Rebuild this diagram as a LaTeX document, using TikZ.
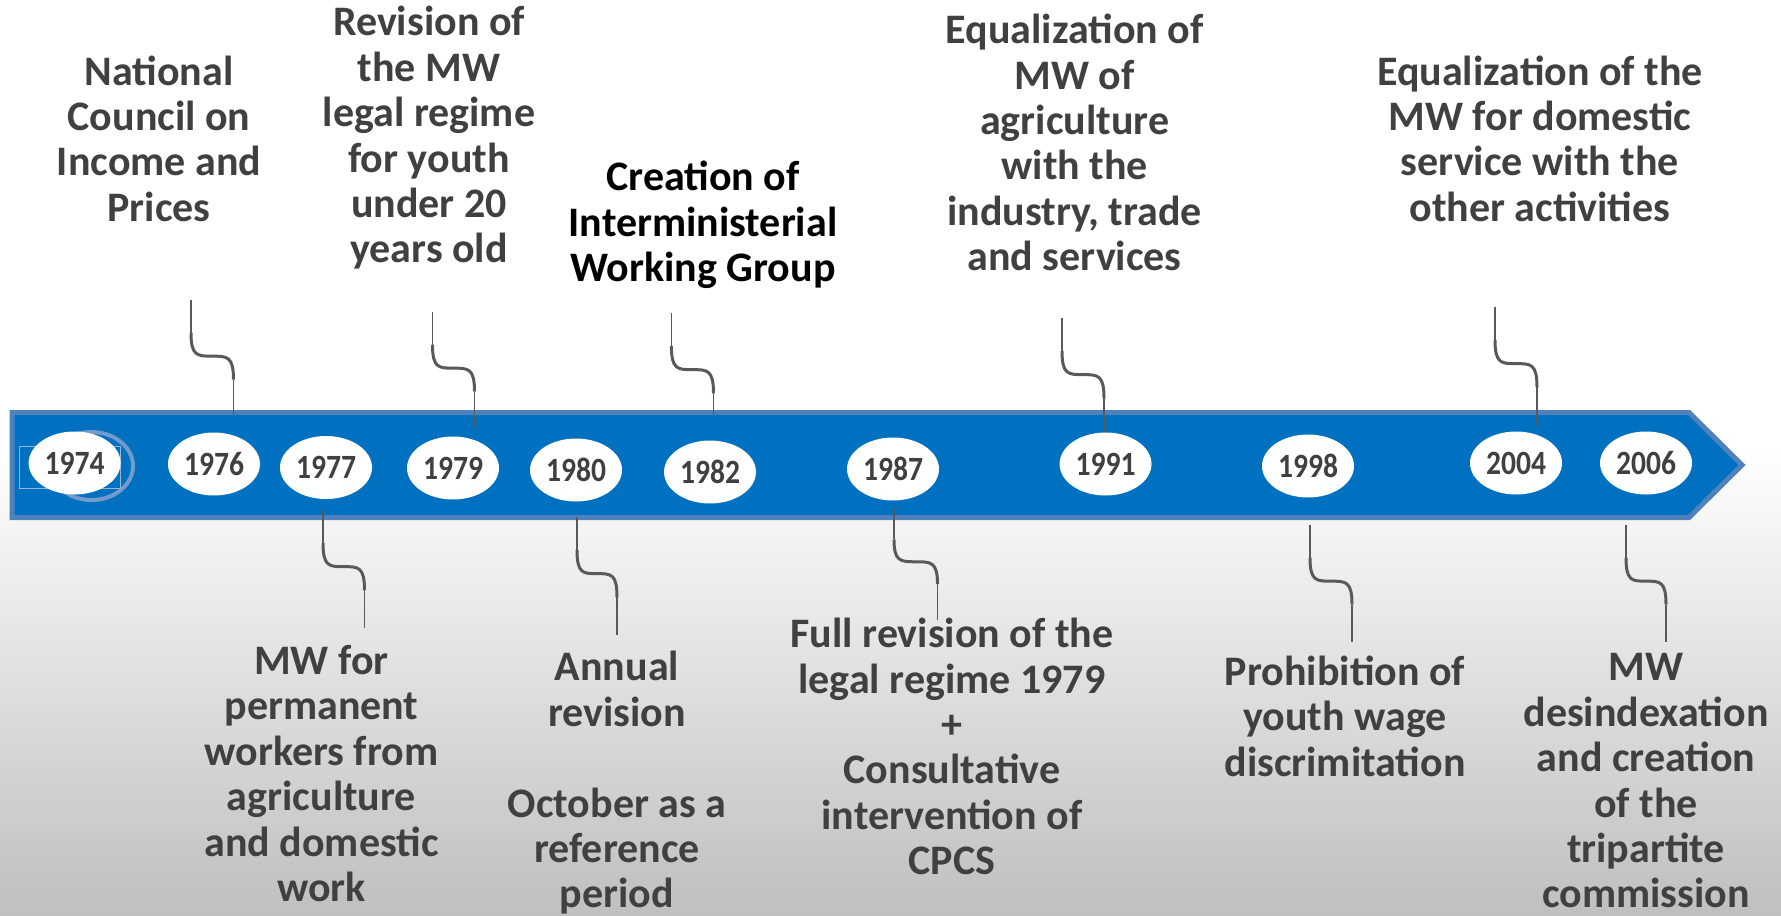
\documentclass[tikz,border=0pt]{standalone}
\usepackage{fontspec}
\setmainfont{Carlito}
\newfontfamily\yearfont{Carlito}[FakeStretch=0.87]
\usetikzlibrary{calc,shapes.geometric}
\definecolor{barblue}{HTML}{0070C0}
\definecolor{barline}{HTML}{4F81BD}
\definecolor{txtgray}{HTML}{404040}
\definecolor{linegray}{HTML}{595959}
\definecolor{bggray}{HTML}{BFBFBF}
\tikzset{
  year/.style={ellipse, fill=white, minimum width=46pt, minimum height=31.5pt, inner sep=0,
    font=\yearfont\fontsize{17}{17}\selectfont\bfseries, text=txtgray},
  event/.style={align=center, inner sep=0, text=txtgray,
    font=\fontsize{21}{22.7}\selectfont\bfseries},
  stub/.style={linegray, line width=0.6pt},
  wave/.style={linegray, line width=1.5pt},
}
\newcommand{\tllink}[2]{%
  \draw[stub] let \p1=(#1), \p2=(#2), \n1={\y1+0.28*(\y2-(\y1))}, \n2={\y1+0.68*(\y2-(\y1))}
    in (#1) -- (\x1,\n1) (\x2,\n2) -- (#2);
  \draw[wave] let \p1=(#1), \p2=(#2), \n1={\y1+0.28*(\y2-(\y1))}, \n2={\y1+0.68*(\y2-(\y1))},
    \n3={\y1+0.48*(\y2-(\y1))}, \n4={0.5*(\x1+\x2)}
    in (\x1,\n1) .. controls (\x1,\n3) and ({\x1+0.15*(\x2-(\x1))},\n3) .. (\n4,\n3)
    .. controls ({\x2-0.15*(\x2-(\x1))},\n3) and (\x2,\n3) .. (\x2,\n2);
}
\begin{document}
\begin{tikzpicture}[x=0.5pt,y=-0.5pt]
  \useasboundingbox (0,0) rectangle (1781,915);
  \fill[white] (0,0) rectangle (1781,915);
  \shade[top color=white, bottom color=bggray] (0,450) rectangle (1781,915);

  \draw[barline, fill=barblue, line width=2.5pt, line join=miter]
    (12,412.5) -- (1689,412.5) -- (1742,465) -- (1689,517.5) -- (12,517.5) -- cycle;

  \foreach \yr/\xa/\ya/\xb/\yb in {1976/191/300/233.5/417, 1979/432.5/312/474.5/429,
      1982/671.4/313/713.5/431, 1991/1062/318/1104/436, 2004/1495/307/1537/425,
      1977/323/510/364.5/628, 1980/577/517/617/635, 1987/894/508/937.5/620,
      1998/1310/525/1352/642, 2006/1626/525/1666/642} {
    \coordinate (a\yr) at (\xa,\ya);
    \coordinate (b\yr) at (\xb,\yb);
    \tllink{a\yr}{b\yr}
  }

  \draw[barline!80, line width=2pt] (91.5,466) ellipse (41.5 and 34);
  \draw[barline!60, line width=0.5pt] (19,446) rectangle (120,488);
  \foreach \yr/\x/\y in {1974/74.6/463, 1976/214/464, 1977/326/467.5, 1979/453/468,
      1980/576/470, 1982/710/472, 1987/893/469, 1991/1105.5/464, 1998/1308/466,
      2004/1516/463, 2006/1646/463} {
    \node[year] (y\yr) at (\x,\y) {\yr};
  }

  \node[event] (t1976) at (159,138.5) {National\\Council on\\Income and\\Prices};
  \node[event] (t1979) at (429,138) {Revision of\\the MW\\legal regime\\for youth\\under 20\\years old};
  \node[event, text=black] (t1982) at (703,225) {Creation of\\Interministerial\\Working Group};
  \node[event] (t1991) at (1074.6,142.5) {Equalization of\\MW of\\agriculture\\with the\\industry, trade\\and services};
  \node[event] (t2004) at (1540,138.5) {Equalization of the\\MW for domestic\\service with the\\other activities};

  \node[event] (t1977) at (321.5,773.5) {MW for\\permanent\\workers from\\agriculture\\and domestic\\work};
  \node[event] (t1980) at (617,783) {Annual\\revision\\~\\October as a\\reference\\period};
  \node[event] (t1987) at (952,746.5) {Full revision of the\\legal regime 1979\\+\\Consultative\\intervention of\\CPCS};
  \node[event] (t1998) at (1345,716) {Prohibition of\\youth wage\\discrimitation};
  \node[event] (t2006) at (1646,781) {MW\\desindexation\\and creation\\of the\\tripartite\\commission};
\end{tikzpicture}
\end{document}
